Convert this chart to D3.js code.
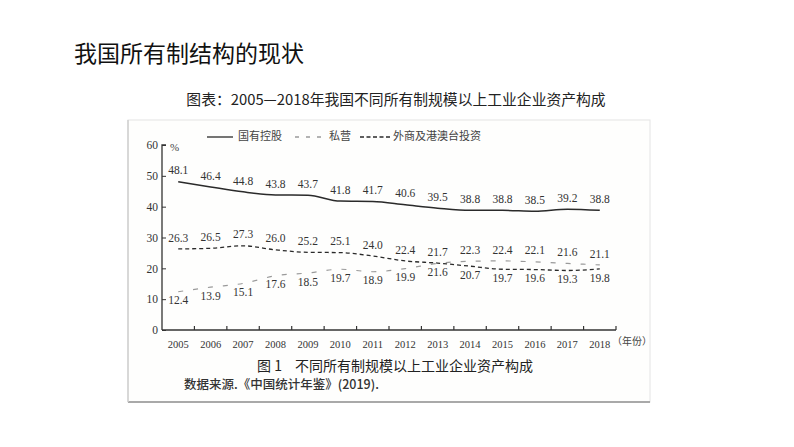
<!DOCTYPE html>
<html><head><meta charset="utf-8">
<script src="https://cdn.jsdelivr.net/npm/d3@7/dist/d3.min.js"></script>
<style>body{margin:0;background:#fff}svg{display:block}</style>
</head><body>
<svg id="c" width="794" height="447"></svg>
<script>
const years = [2005,2006,2007,2008,2009,2010,2011,2012,2013,2014,2015,2016,2017,2018];
const stateOwned = [48.1,46.4,44.8,43.8,43.7,41.8,41.7,40.6,39.5,38.8,38.8,38.5,39.2,38.8];
const privateOwned = [12.4,13.9,15.1,17.6,18.5,19.7,18.9,19.9,21.6,22.3,22.4,22.1,21.6,21.1];
const foreignOwned = [26.3,26.5,27.3,26.0,25.2,25.1,24.0,22.4,21.7,20.7,19.7,19.6,19.3,19.8];
const yTicks = [0,10,20,30,40,50,60];
const seriesNames = ["国有控股","私营","外商及港澳台投资"];

const svg = d3.select("#c");
const serif = "Liberation Serif, DejaVu Serif, serif";
const cjkSerif = "Noto Sans CJK SC, sans-serif";
const sans = "Noto Sans CJK SC, Noto Sans, sans-serif";

// page title
svg.append("text").attr("x",74).attr("y",62).attr("font-family",sans).attr("font-size",23)
  .attr("fill","#111").text("我国所有制结构的现状");
svg.append("text").attr("x",396).attr("y",105).attr("text-anchor","middle").attr("font-family",sans)
  .attr("font-size",14.8).attr("fill","#222").text("图表：2005—2018年我国不同所有制规模以上工业企业资产构成");

// frame of embedded figure
svg.append("rect").attr("x",128).attr("y",120).attr("width",522).attr("height",282)
  .attr("fill","#fefefd").attr("stroke","#e4e4e4").attr("stroke-width",1);
svg.append("line").attr("x1",128).attr("x2",650).attr("y1",402).attr("y2",402).attr("stroke","#a9a9a9").attr("stroke-width",2);
svg.append("line").attr("x1",128).attr("x2",128).attr("y1",120).attr("y2",402).attr("stroke","#cfcfcf").attr("stroke-width",1.5);

const x = d3.scaleBand().domain(years).range([162,616]);
const y = d3.scaleLinear().domain([0,60]).range([330,145]);
const cx = d => x(d) + x.bandwidth()/2;

// axes
const gy = svg.append("g").attr("transform","translate(162,0)")
  .call(d3.axisRight(y).tickValues(yTicks).tickSize(4).tickFormat(d3.format("d")));
gy.select(".domain").attr("stroke","#333").attr("stroke-width",1.3).attr("d","M4,145H0V330");
gy.selectAll(".tick line").attr("stroke","#333");
gy.selectAll(".tick text").attr("x",-4).attr("text-anchor","end").attr("font-family",serif)
  .attr("font-size",11.5).attr("fill","#333");

const gx = svg.append("g").attr("transform","translate(0,330)")
  .call(d3.axisBottom(x).tickSize(0).tickFormat(d3.format("d")));
gx.select(".domain").attr("stroke","#333").attr("stroke-width",1.3).attr("d","M162,0H616");
gx.selectAll(".tick text").attr("y",11).attr("font-family",serif).attr("font-size",10.5).attr("fill","#333");
gx.selectAll(".edge").data(years.map(d=>x(d)+x.bandwidth())).enter().append("line")
  .attr("x1",d=>d).attr("x2",d=>d).attr("y1",0).attr("y2",-4).attr("stroke","#333").attr("stroke-width",1.2);
svg.append("text").attr("x",612).attr("y",345).attr("font-family",cjkSerif).attr("font-size",10)
  .attr("fill","#444").text("（年份）");
svg.append("text").attr("x",170).attr("y",151).attr("font-family",serif).attr("font-size",11)
  .attr("fill","#444").text("%");

// lines
const line = d3.line().x((d,i)=>cx(years[i])).y(d=>y(d)).curve(d3.curveMonotoneX);
svg.append("path").datum(stateOwned).attr("d",line).attr("fill","none").attr("stroke","#2a2a2a").attr("stroke-width",1.5);
svg.append("path").datum(foreignOwned).attr("d",line).attr("fill","none").attr("stroke","#2a2a2a")
  .attr("stroke-width",1.3).attr("stroke-dasharray","4,3");
svg.append("path").datum(privateOwned).attr("d",line).attr("fill","none").attr("stroke","#9a9a9a")
  .attr("stroke-width",1.2).attr("stroke-dasharray","5,10");

// labels
const lab = (xx,yy,t) => svg.append("text").attr("x",xx).attr("y",yy).attr("text-anchor","middle")
  .attr("dominant-baseline","middle").attr("font-family",serif).attr("font-size",11.5).attr("fill","#333").text(t);
const f1 = d3.format(".1f");
years.forEach((yr,i)=>{
  lab(cx(yr), y(stateOwned[i])-10, f1(stateOwned[i]));
  const hi = Math.max(privateOwned[i],foreignOwned[i]);
  const lo = Math.min(privateOwned[i],foreignOwned[i]);
  lab(cx(yr), y(hi)-10, f1(hi));
  lab(cx(yr), y(lo)+10, f1(lo));
});

// legend
const leg = svg.append("g");
const legItems = [
  {name:seriesNames[0], x1:207, x2:233, tx:238, stroke:"#2a2a2a", dash:null},
  {name:seriesNames[1], x1:295, x2:325, tx:329, stroke:"#9a9a9a", dash:"4,7"},
  {name:seriesNames[2], x1:360, x2:390, tx:393, stroke:"#2a2a2a", dash:"4,2.5"}
];
legItems.forEach(d=>{
  leg.append("line").attr("x1",d.x1).attr("x2",d.x2).attr("y1",137).attr("y2",137)
    .attr("stroke",d.stroke).attr("stroke-width",1.3).attr("stroke-dasharray",d.dash);
  leg.append("text").attr("x",d.tx).attr("y",137).attr("dominant-baseline","middle")
    .attr("font-family",cjkSerif).attr("font-size",11).attr("fill","#444").text(d.name);
});

// captions
svg.append("text").attr("x",257).attr("y",371).attr("font-family",sans).attr("font-size",14)
  .attr("fill","#222").text("图 1");
svg.append("text").attr("x",295).attr("y",371).attr("font-family",sans).attr("font-size",14)
  .attr("fill","#222").text("不同所有制规模以上工业企业资产构成");
svg.append("text").attr("x",184).attr("y",389).attr("font-family",sans).attr("font-size",12.5)
  .attr("font-weight",500).attr("fill","#333").text("数据来源.《中国统计年鉴》(2019).");
</script>
</body></html>
